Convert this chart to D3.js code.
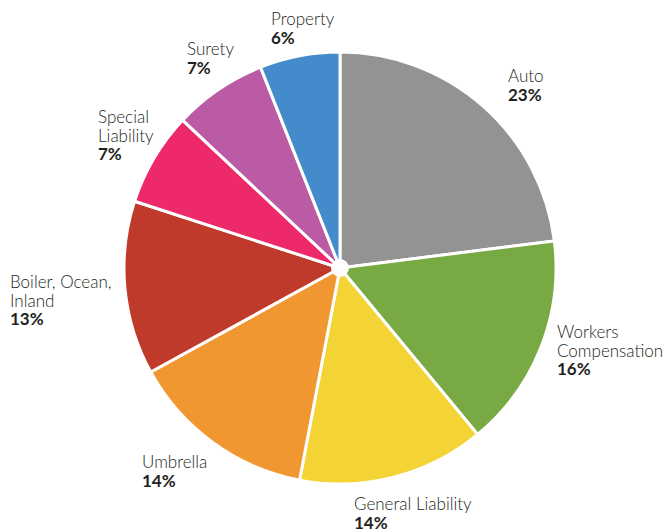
<!DOCTYPE html>
<html>
<head>
<meta charset="utf-8">
<script src="https://cdn.jsdelivr.net/npm/d3@7"></script>
<style>
  body { margin: 0; background: #fff; }
  text { font-family: Lato, "Open Sans", sans-serif; font-size: 17px; fill: #231f20; }
</style>
</head>
<body>
<div id="chart"></div>
<script>
// 数据
const categories = ['Auto', 'Workers Compensation', 'General Liability', 'Umbrella',
  'Boiler, Ocean, Inland', 'Special Liability', 'Surety', 'Property'];
const shares = [23, 16, 14, 14, 13, 7, 7, 6];
// 标签分行
const labelLines = [['Auto'], ['Workers', 'Compensation'], ['General Liability'], ['Umbrella'],
  ['Boiler, Ocean,', 'Inland'], ['Special', 'Liability'], ['Surety'], ['Property']];
const colors = ['#939393', '#78a942', '#f4d335', '#f19732', '#bf3a2b', '#ee2969', '#bc5ba5', '#438bcb'];

const width = 668, height = 531;
const cx = 340, cy = 268, radius = 216;
// 标签第一行基线相对圆心的位置
const labelPos = [[168, -186], [217, 70], [14, 242], [-198, 200], [-330, 20], [-242, -145], [-153, -213], [-69, -243]];

const svg = d3.select('#chart').append('svg')
  .attr('width', width)
  .attr('height', height);

const g = svg.append('g').attr('transform', `translate(${cx},${cy})`);

const pie = d3.pie().sort(null).value(d => d);
const arc = d3.arc().innerRadius(0).outerRadius(radius);
const arcs = pie(shares);

g.selectAll('path.slice')
  .data(arcs)
  .join('path')
  .attr('class', 'slice')
  .attr('d', arc)
  .attr('fill', (d, i) => colors[i])
  .attr('stroke', '#fff')
  .attr('stroke-width', 3)
  .attr('stroke-linejoin', 'round');

// 中心白点
g.append('circle').attr('r', 9).attr('fill', '#fff');

// 标签
const lineH = 18.5;
const labels = g.selectAll('text.label')
  .data(arcs)
  .join('text')
  .attr('class', 'label')
  .attr('transform', (d, i) => `translate(${labelPos[i][0]},${labelPos[i][1]})`);

labels.each(function (d, i) {
  const t = d3.select(this);
  labelLines[i].forEach((s, k) => {
    t.append('tspan').attr('x', 0).attr('y', k * lineH)
      .attr('font-weight', 300).text(s);
  });
  t.append('tspan').attr('x', 0).attr('y', labelLines[i].length * lineH)
    .attr('font-weight', 700).text(shares[i] + '%');
});
</script>
</body>
</html>
